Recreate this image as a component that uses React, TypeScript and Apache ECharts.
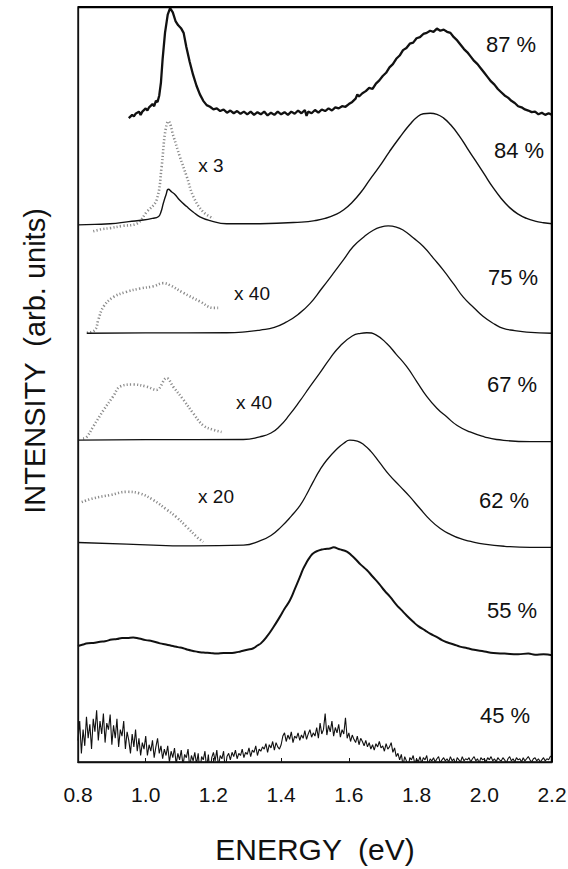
import React, { useEffect, useRef } from 'react';
import * as echarts from 'echarts';

// ---------- axis ----------
const X_MIN = 0.8;
const X_MAX = 2.2;
const X_STEP = 0.2;
const Y_MIN = 0;
const Y_MAX = 7;

// ---------- panels (top to bottom) ----------
const PANEL_LABELS = ['87 %', '84 %', '75 %', '67 %', '62 %', '55 %', '45 %'];
const PANEL_OFFSETS = [6, 5, 4, 3, 2, 1, 0];

// magnification labels
const MAG_LABELS = ['x 3', 'x 40', 'x 40', 'x 20'];

// ---------- spectra (energy eV, intensity in panel units) ----------
const SPEC_87 = [
  [0.95, -0.03], [0.96, 0.0], [0.965, -0.015], [0.97, 0.01], [0.98, 0.03], [0.985, 0.0], [0.99, 0.03], [1.0, 0.06],
  [1.005, 0.04], [1.01, 0.07], [1.02, 0.1], [1.025, 0.08], [1.03, 0.13], [1.035, 0.12], [1.04, 0.18], [1.045, 0.3],
  [1.05, 0.52], [1.057, 0.76], [1.065, 0.93], [1.072, 0.99], [1.08, 0.95], [1.088, 0.87], [1.096, 0.83],
  [1.105, 0.8], [1.112, 0.76], [1.12, 0.63], [1.13, 0.49], [1.14, 0.37], [1.15, 0.27], [1.16, 0.19],
  [1.17, 0.13], [1.18, 0.09], [1.19, 0.075], [1.2, 0.05], [1.21, 0.06], [1.22, 0.035], [1.23, 0.05],
  [1.24, 0.02], [1.25, 0.04], [1.26, 0.015], [1.27, 0.035], [1.28, 0.01], [1.29, 0.03], [1.3, 0.005],
  [1.31, 0.03], [1.32, 0.0], [1.33, 0.025], [1.34, 0.005], [1.35, 0.03], [1.36, -0.005], [1.37, 0.02],
  [1.38, 0.0], [1.39, 0.03], [1.4, 0.005], [1.41, 0.025], [1.42, 0.0], [1.43, 0.03], [1.44, 0.01],
  [1.45, 0.04], [1.46, 0.015], [1.47, 0.045], [1.475, -0.01], [1.48, 0.03], [1.49, 0.015], [1.5, 0.045],
  [1.51, 0.02], [1.52, 0.05], [1.53, 0.035], [1.54, 0.06], [1.55, 0.04], [1.56, 0.07], [1.57, 0.06],
  [1.58, 0.08], [1.59, 0.075], [1.6, 0.1], [1.61, 0.12], [1.62, 0.15], [1.625, 0.19], [1.63, 0.17],
  [1.64, 0.2], [1.65, 0.22], [1.66, 0.25], [1.67, 0.24], [1.68, 0.29], [1.69, 0.32], [1.7, 0.36],
  [1.71, 0.39], [1.72, 0.44], [1.73, 0.47], [1.74, 0.52], [1.75, 0.55], [1.76, 0.6], [1.77, 0.62],
  [1.78, 0.66], [1.79, 0.67], [1.8, 0.71], [1.81, 0.72], [1.82, 0.75], [1.83, 0.76], [1.84, 0.78],
  [1.85, 0.77], [1.86, 0.8], [1.87, 0.78], [1.88, 0.79], [1.89, 0.77], [1.9, 0.76], [1.91, 0.72],
  [1.92, 0.69], [1.93, 0.65], [1.94, 0.61], [1.95, 0.58], [1.96, 0.54], [1.97, 0.5], [1.98, 0.47],
  [1.99, 0.43], [2.0, 0.39], [2.01, 0.35], [2.02, 0.31], [2.03, 0.28], [2.04, 0.24], [2.05, 0.21],
  [2.06, 0.18], [2.07, 0.16], [2.08, 0.13], [2.09, 0.11], [2.1, 0.08], [2.11, 0.07], [2.12, 0.05],
  [2.13, 0.04], [2.14, 0.025], [2.15, 0.03], [2.16, 0.005], [2.17, 0.02], [2.18, 0.0], [2.19, 0.015],
  [2.2, 0.0],
];

const SPEC_84 = [
  [0.8, -0.02], [0.85, -0.015], [0.895, -0.01], [0.95, 0.01], [0.993, 0.025], [1.02, 0.04], [1.037, 0.055],
  [1.045, 0.1], [1.052, 0.18], [1.06, 0.26], [1.067, 0.31], [1.077, 0.285], [1.087, 0.26], [1.1, 0.21],
  [1.121, 0.15], [1.14, 0.1], [1.16, 0.055], [1.19, 0.02], [1.239, -0.01], [1.338, -0.01], [1.42, 0.0],
  [1.46, 0.005], [1.5, 0.02], [1.53, 0.04], [1.56, 0.075], [1.585, 0.12], [1.61, 0.19], [1.635, 0.28],
  [1.662, 0.4], [1.69, 0.52], [1.72, 0.66], [1.75, 0.79], [1.78, 0.91], [1.8, 0.975], [1.82, 1.01],
  [1.84, 1.015], [1.86, 1.005], [1.88, 0.97], [1.9, 0.91], [1.925, 0.81], [1.95, 0.69], [1.975, 0.57],
  [2.0, 0.45], [2.025, 0.33], [2.05, 0.225], [2.075, 0.14], [2.1, 0.08], [2.125, 0.04], [2.15, 0.015],
  [2.175, 0.0], [2.2, -0.01],
];

const SPEC_75 = [
  [0.826, -0.025], [1.0, -0.022], [1.239, -0.02], [1.3, -0.01], [1.338, 0.005], [1.38, 0.03], [1.416, 0.08],
  [1.45, 0.15], [1.485, 0.25], [1.52, 0.39], [1.554, 0.53], [1.585, 0.66], [1.613, 0.78], [1.645, 0.87],
  [1.672, 0.93], [1.695, 0.96], [1.716, 0.97], [1.74, 0.96], [1.761, 0.93], [1.79, 0.86], [1.82, 0.78],
  [1.85, 0.67], [1.879, 0.56], [1.91, 0.43], [1.938, 0.31], [1.97, 0.21], [1.997, 0.13], [2.03, 0.06],
  [2.056, 0.02], [2.09, 0.0], [2.125, -0.015], [2.2, -0.025],
];

const SPEC_67 = [
  [0.8, -0.015], [1.0, -0.012], [1.288, -0.01], [1.337, 0.015], [1.37, 0.05], [1.395, 0.11], [1.425, 0.22],
  [1.456, 0.35], [1.485, 0.48], [1.515, 0.61], [1.544, 0.74], [1.575, 0.86], [1.61, 0.95], [1.635, 0.975],
  [1.653, 0.98], [1.68, 0.96], [1.712, 0.88], [1.74, 0.78], [1.771, 0.665], [1.8, 0.53], [1.83, 0.39],
  [1.86, 0.28], [1.889, 0.2], [1.92, 0.12], [1.958, 0.06], [2.0, 0.015], [2.036, -0.01], [2.135, -0.03],
  [2.2, -0.03],
];

const SPEC_62 = [
  [0.8, 0.035], [0.944, 0.02], [1.141, 0.003], [1.289, 0.01], [1.337, 0.05], [1.37, 0.1], [1.4, 0.18],
  [1.43, 0.28], [1.456, 0.38], [1.475, 0.48], [1.495, 0.6], [1.515, 0.71], [1.535, 0.8], [1.564, 0.9],
  [1.585, 0.955], [1.603, 0.985], [1.625, 0.975], [1.645, 0.94], [1.665, 0.88], [1.69, 0.78], [1.72, 0.66],
  [1.75, 0.56], [1.78, 0.46], [1.81, 0.35], [1.84, 0.245], [1.87, 0.165], [1.9, 0.11], [1.93, 0.07],
  [1.96, 0.045], [2.0, 0.02], [2.06, 0.0], [2.135, -0.01], [2.2, -0.01],
];

const SPEC_55 = [
  [0.8, 0.075], [0.815, 0.09], [0.83, 0.1], [0.85, 0.105], [0.865, 0.115], [0.88, 0.12], [0.9, 0.135],
  [0.915, 0.14], [0.93, 0.15], [0.945, 0.15], [0.963, 0.155], [0.98, 0.145], [1.0, 0.13], [1.02, 0.12],
  [1.042, 0.1], [1.06, 0.09], [1.08, 0.075], [1.095, 0.065], [1.111, 0.055], [1.125, 0.04], [1.14, 0.03],
  [1.155, 0.02], [1.17, 0.015], [1.19, 0.01], [1.21, 0.005], [1.23, 0.01], [1.249, 0.01], [1.265, 0.015],
  [1.28, 0.025], [1.3, 0.04], [1.318, 0.055], [1.33, 0.08], [1.34, 0.1], [1.357, 0.16], [1.377, 0.25],
  [1.397, 0.35], [1.41, 0.42], [1.426, 0.5], [1.44, 0.6], [1.456, 0.72], [1.465, 0.79], [1.475, 0.85],
  [1.485, 0.9], [1.495, 0.935], [1.51, 0.96], [1.52, 0.97], [1.53, 0.975], [1.544, 0.98], [1.555, 0.99],
  [1.57, 0.975], [1.58, 0.965], [1.594, 0.95], [1.61, 0.91], [1.62, 0.88], [1.635, 0.83], [1.653, 0.78],
  [1.67, 0.72], [1.69, 0.65], [1.705, 0.59], [1.722, 0.53], [1.74, 0.46], [1.755, 0.41], [1.77, 0.36],
  [1.79, 0.3], [1.805, 0.26], [1.825, 0.22], [1.84, 0.19], [1.859, 0.16], [1.875, 0.13], [1.89, 0.11],
  [1.91, 0.09], [1.928, 0.07], [1.95, 0.055], [1.97, 0.04], [2.0, 0.025], [2.027, 0.01], [2.06, 0.005],
  [2.1, 0.0], [2.13, 0.005], [2.15, -0.005], [2.175, 0.0], [2.2, -0.01],
];

// 45 % spectrum: fine energy grid with its (noisy) values
const ENERGY_FINE = [
  0.800, 0.805, 0.810, 0.815, 0.820, 0.825, 0.830, 0.835, 0.840, 0.845,
  0.850, 0.855, 0.860, 0.865, 0.870, 0.875, 0.880, 0.885, 0.890, 0.895,
  0.900, 0.905, 0.910, 0.915, 0.920, 0.925, 0.930, 0.935, 0.940, 0.945,
  0.950, 0.955, 0.960, 0.965, 0.970, 0.975, 0.980, 0.985, 0.990, 0.995,
  1.000, 1.005, 1.010, 1.015, 1.020, 1.025, 1.030, 1.035, 1.040, 1.045,
  1.050, 1.055, 1.060, 1.065, 1.070, 1.075, 1.080, 1.085, 1.090, 1.095,
  1.100, 1.105, 1.110, 1.115, 1.120, 1.125, 1.130, 1.135, 1.140, 1.145,
  1.150, 1.155, 1.160, 1.165, 1.170, 1.175, 1.180, 1.185, 1.190, 1.195,
  1.200, 1.205, 1.210, 1.215, 1.220, 1.225, 1.230, 1.235, 1.240, 1.245,
  1.250, 1.255, 1.260, 1.265, 1.270, 1.275, 1.280, 1.285, 1.290, 1.295,
  1.300, 1.305, 1.310, 1.315, 1.320, 1.325, 1.330, 1.335, 1.340, 1.345,
  1.350, 1.355, 1.360, 1.365, 1.370, 1.375, 1.380, 1.385, 1.390, 1.395,
  1.400, 1.405, 1.410, 1.415, 1.420, 1.425, 1.430, 1.435, 1.440, 1.445,
  1.450, 1.455, 1.460, 1.465, 1.470, 1.475, 1.480, 1.485, 1.490, 1.495,
  1.500, 1.505, 1.510, 1.515, 1.520, 1.525, 1.530, 1.535, 1.540, 1.545,
  1.550, 1.555, 1.560, 1.565, 1.570, 1.575, 1.580, 1.585, 1.590, 1.595,
  1.600, 1.605, 1.610, 1.615, 1.620, 1.625, 1.630, 1.635, 1.640, 1.645,
  1.650, 1.655, 1.660, 1.665, 1.670, 1.675, 1.680, 1.685, 1.690, 1.695,
  1.700, 1.705, 1.710, 1.715, 1.720, 1.725, 1.730, 1.735, 1.740, 1.745,
  1.750, 1.755, 1.760, 1.765, 1.770, 1.775, 1.780, 1.785, 1.790, 1.795,
  1.800, 1.805, 1.810, 1.815, 1.820, 1.825, 1.830, 1.835, 1.840, 1.845,
  1.850, 1.855, 1.860, 1.865, 1.870, 1.875, 1.880, 1.885, 1.890, 1.895,
  1.900, 1.905, 1.910, 1.915, 1.920, 1.925, 1.930, 1.935, 1.940, 1.945,
  1.950, 1.955, 1.960, 1.965, 1.970, 1.975, 1.980, 1.985, 1.990, 1.995,
  2.000, 2.005, 2.010, 2.015, 2.020, 2.025, 2.030, 2.035, 2.040, 2.045,
  2.050, 2.055, 2.060, 2.065, 2.070, 2.075, 2.080, 2.085, 2.090, 2.095,
  2.100, 2.105, 2.110, 2.115, 2.120, 2.125, 2.130, 2.135, 2.140, 2.145,
  2.150, 2.155, 2.160, 2.165, 2.170, 2.175, 2.180, 2.185, 2.190, 2.195,
  2.200,
];
const INTENSITY_45 = [
  0.20, 0.38, 0.08, 0.30, 0.15, 0.42, 0.22, 0.35, 0.12, 0.40,
  0.28, 0.48, 0.20, 0.38, 0.26, 0.45, 0.18, 0.36, 0.30, 0.44,
  0.16, 0.34, 0.22, 0.40, 0.14, 0.30, 0.24, 0.38, 0.12, 0.28,
  0.20, 0.08, 0.26, 0.14, 0.30, 0.10, 0.22, 0.06, 0.18, 0.12,
  0.24, 0.06, 0.16, 0.10, 0.20, 0.04, 0.14, 0.22, 0.08, 0.15,
  0.03, 0.12, 0.06, 0.15, 0.00, 0.10, 0.04, 0.13, -0.02, 0.08,
  0.02, 0.11, -0.03, 0.07, 0.04, 0.12, -0.05, 0.06, 0.01, 0.09,
  -0.02, 0.08, -0.10, 0.05, 0.02, 0.10, -0.06, 0.07, -0.12, 0.04,
  0.09, 0.01, 0.11, -0.04, 0.06, 0.03, 0.10, -0.07, 0.05, 0.08,
  0.02, 0.09, 0.05, 0.11, 0.03, 0.08, 0.06, 0.12, 0.04, 0.09,
  0.07, 0.13, 0.05, 0.11, 0.09, 0.15, 0.06, 0.12, 0.10, 0.14,
  0.12, 0.17, 0.09, 0.16, 0.13, 0.19, 0.11, 0.18, 0.14, 0.12,
  0.16, 0.24, 0.27, 0.19, 0.25, 0.21, 0.28, 0.18, 0.24, 0.22,
  0.27, 0.20, 0.25, 0.22, 0.29, 0.21, 0.26, 0.30, 0.23, 0.27,
  0.24, 0.32, 0.22, 0.36, 0.26, 0.30, 0.45, 0.25, 0.34, 0.28,
  0.38, 0.24, 0.32, 0.27, 0.35, 0.23, 0.30, 0.26, 0.41, 0.22,
  0.27, 0.19, 0.25, 0.21, 0.18, 0.24, 0.16, 0.22, 0.19, 0.15,
  0.20, 0.14, 0.18, 0.12, 0.16, 0.11, 0.17, 0.14, 0.19, 0.13,
  0.15, 0.10, 0.17, 0.12, 0.14, 0.18, 0.09, 0.13, 0.05, 0.08,
  0.02, 0.07, -0.03, 0.05, 0.01, -0.06, 0.04, 0.02, 0.06, -0.02,
  0.03, 0.00, 0.05, -0.01, 0.04, 0.02, 0.06, -0.03, 0.03, 0.01,
  0.04, 0.00, 0.03, 0.05, -0.01, 0.02, 0.04, 0.01, 0.03, 0.00,
  0.05, 0.01, 0.03, -0.02, 0.04, 0.02, 0.00, 0.05, 0.01, 0.03,
  0.02, 0.04, 0.00, 0.03, 0.05, 0.01, 0.03, -0.01, 0.04, 0.02,
  0.03, 0.00, 0.04, 0.02, 0.05, 0.01, 0.03, 0.00, 0.04, 0.02,
  0.01, 0.04, 0.02, -0.01, 0.03, 0.05, 0.01, 0.03, 0.00, 0.04,
  0.02, 0.03, 0.00, 0.04, 0.01, 0.03, 0.05, 0.02, 0.00, 0.03,
  0.04, 0.01, 0.03, 0.00, 0.02, 0.04, 0.01, 0.03, 0.02, 0.05,
  0.06,
];

// magnified (dotted grey) traces
const MAG_84_X3 = [
  [0.845, -0.08], [0.87, -0.06], [0.895, -0.05], [0.93, -0.03], [0.973, -0.01], [1.003, 0.1], [1.032, 0.21],
  [1.047, 0.52], [1.057, 0.83], [1.067, 0.94], [1.082, 0.8], [1.101, 0.61], [1.121, 0.43], [1.141, 0.24],
  [1.17, 0.1], [1.2, 0.04],
];
const MAG_75_X40 = [
  [0.826, -0.02], [0.85, 0.005], [0.86, 0.1], [0.875, 0.22], [0.904, 0.31], [0.944, 0.36], [0.983, 0.39],
  [1.022, 0.41], [1.052, 0.44], [1.072, 0.42], [1.111, 0.35], [1.16, 0.27], [1.2, 0.21], [1.214, 0.21],
];
const MAG_67_X40 = [
  [0.815, 0.0], [0.826, 0.015], [0.845, 0.11], [0.875, 0.26], [0.904, 0.39], [0.924, 0.48], [0.963, 0.5],
  [1.003, 0.48], [1.032, 0.45], [1.062, 0.56], [1.081, 0.48], [1.111, 0.36], [1.141, 0.23], [1.17, 0.12],
  [1.2, 0.08], [1.224, 0.06],
];
const MAG_62_X20 = [
  [0.811, 0.41], [0.845, 0.445], [0.895, 0.475], [0.944, 0.505], [0.983, 0.49], [1.022, 0.43], [1.062, 0.34],
  [1.091, 0.27], [1.121, 0.18], [1.15, 0.09], [1.17, 0.04],
];

const FONT = '"Liberation Sans", Arial, Helvetica, sans-serif';
const INK = '#111';

// plot frame layout (pixels)
const GRID_LEFT = 78;
const GRID_RIGHT = 16;
const GRID_TOP = 7;
const GRID_BOTTOM = 107;
const W = 568;
const H = 869;

function shift(points: number[][], off: number) {
  return points.map(([e, v]) => [e, v + off]);
}

export default function App() {
  const ref = useRef<HTMLDivElement>(null);

  useEffect(() => {
    if (!ref.current) return;
    const chart = echarts.init(ref.current, undefined, { renderer: 'svg' });

    const mainSpectra = [SPEC_87, SPEC_84, SPEC_75, SPEC_67, SPEC_62, SPEC_55];
    const mainWidths = [2.3, 1.4, 1.3, 1.3, 1.3, 2.0];
    const spec45 = ENERGY_FINE.map((e, i) => [e, INTENSITY_45[i] + PANEL_OFFSETS[6]]);

    const magSpectra = [
      { data: MAG_84_X3, off: PANEL_OFFSETS[1] },
      { data: MAG_75_X40, off: PANEL_OFFSETS[2] },
      { data: MAG_67_X40, off: PANEL_OFFSETS[3] },
      { data: MAG_62_X20, off: PANEL_OFFSETS[4] },
    ];

    const series: any[] = [];
    magSpectra.forEach((m, i) => {
      series.push({
        type: 'line',
        name: MAG_LABELS[i],
        data: shift(m.data, m.off),
        showSymbol: false,
        smooth: 0.4,
        lineStyle: { color: '#8c8c8c', width: 2.6, type: [1.2, 2.2] },
        silent: true,
        z: 2,
      });
    });
    mainSpectra.forEach((s, i) => {
      series.push({
        type: 'line',
        name: PANEL_LABELS[i],
        data: shift(s, PANEL_OFFSETS[i]),
        showSymbol: false,
        smooth: i === 0 ? false : 0.5,
        lineStyle: { color: INK, width: mainWidths[i] },
        clip: false,
        silent: true,
        z: 3,
      });
    });
    series.push({
      type: 'line',
      name: PANEL_LABELS[6],
      data: spec45,
      showSymbol: false,
      lineStyle: { color: INK, width: 1.1 },
      silent: true,
      z: 3,
    });

    const pctPos = [
      [511, 44], [519, 150], [513, 277], [512, 384], [504, 500], [512, 610], [505, 715],
    ];
    const magPos = [
      [211, 165], [252, 293], [254, 402], [216, 496],
    ];

    const graphic: any[] = [];
    // top + right edges of the plot frame
    graphic.push({
      type: 'polyline',
      silent: true,
      z: 20,
      shape: {
        points: [
          [GRID_LEFT, GRID_TOP + 0.5],
          [W - GRID_RIGHT - 0.5, GRID_TOP + 0.5],
          [W - GRID_RIGHT - 0.5, H - GRID_BOTTOM],
        ],
      },
      style: { stroke: '#000', lineWidth: 1.5, fill: null },
    });
    PANEL_LABELS.forEach((t, i) => {
      graphic.push({
        type: 'text',
        x: pctPos[i][0],
        y: pctPos[i][1],
        style: { text: t, fontSize: 22, fontFamily: FONT, fill: INK, align: 'center', verticalAlign: 'middle' },
      });
    });
    MAG_LABELS.forEach((t, i) => {
      graphic.push({
        type: 'text',
        x: magPos[i][0],
        y: magPos[i][1],
        style: { text: t, fontSize: 19, fontFamily: FONT, fill: INK, align: 'center', verticalAlign: 'middle' },
      });
    });
    graphic.push({
      type: 'text',
      x: 315,
      y: 849,
      style: { text: 'ENERGY  (eV)', fontSize: 30, fontFamily: FONT, fill: INK, align: 'center', verticalAlign: 'middle' },
    });
    graphic.push({
      type: 'text',
      x: 35,
      y: 361,
      rotation: Math.PI / 2,
      style: { text: 'INTENSITY  (arb. units)', fontSize: 29, fontFamily: FONT, fill: INK, align: 'center', verticalAlign: 'middle' },
    });

    chart.setOption({
      animation: false,
      backgroundColor: '#fff',
      grid: {
        left: GRID_LEFT,
        right: GRID_RIGHT,
        top: GRID_TOP,
        bottom: GRID_BOTTOM,
        containLabel: false,
        outerBoundsMode: 'none',
        show: true,
        borderColor: '#000',
        borderWidth: 1.3,
        backgroundColor: 'rgba(0,0,0,0)',
      },
      xAxis: {
        type: 'value',
        min: X_MIN,
        max: X_MAX,
        interval: X_STEP,
        axisLine: { show: true, onZero: false, lineStyle: { color: INK, width: 1.3 } },
        axisTick: { show: true, inside: true, length: 4, lineStyle: { color: INK } },
        axisLabel: {
          fontSize: 21,
          fontFamily: FONT,
          color: INK,
          margin: 22,
          formatter: (v: number) => v.toFixed(1),
        },
        splitLine: { show: false },
      },
      yAxis: {
        type: 'value',
        min: Y_MIN,
        max: Y_MAX,
        axisLine: { show: true, lineStyle: { color: INK, width: 1.3 } },
        axisTick: { show: false },
        axisLabel: { show: false },
        splitLine: { show: false },
      },
      series,
      graphic,
    });

    return () => chart.dispose();
  }, []);

  return (
    <div style={{ position: 'fixed', left: 0, top: 0, width: W, height: H, background: '#fff' }}>
      <div ref={ref} style={{ position: 'absolute', left: 0, top: 0, width: W, height: H }} />
      <div
        style={{
          position: 'absolute',
          left: GRID_LEFT,
          top: GRID_TOP - 1,
          width: W - GRID_LEFT - GRID_RIGHT,
          height: H - GRID_TOP - GRID_BOTTOM,
          borderTop: '1px solid #000',
          borderRight: '1px solid #000',
          pointerEvents: 'none',
        }}
      />
    </div>
  );
}
